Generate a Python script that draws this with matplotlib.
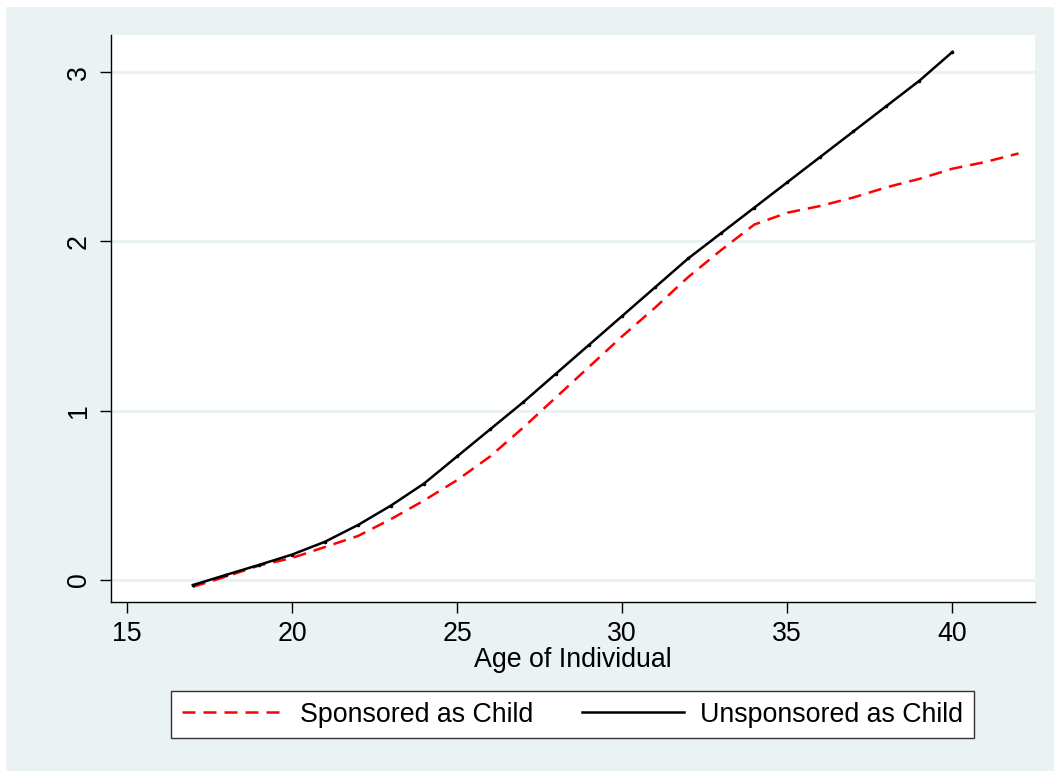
import numpy as np
import matplotlib
matplotlib.use("Agg")
import matplotlib.pyplot as plt
from matplotlib.patches import Rectangle

plt.rcParams['font.family'] = ['Liberation Sans', 'DejaVu Sans']

# data
age_spons = list(range(17, 43))
spons = [-0.04, 0.02, 0.085, 0.13, 0.195, 0.26, 0.36, 0.47, 0.59, 0.73,
         0.90, 1.08, 1.26, 1.44, 1.61, 1.79, 1.95, 2.10, 2.17, 2.21,
         2.26, 2.32, 2.37, 2.43, 2.47, 2.52]
age_unspons = list(range(17, 41))
unspons = [-0.03, 0.03, 0.089, 0.15, 0.226, 0.325, 0.44, 0.57, 0.73, 0.89,
           1.05, 1.22, 1.39, 1.56, 1.73, 1.90, 2.05, 2.20, 2.35, 2.50,
           2.65, 2.80, 2.95, 3.12]
xticks = [15, 20, 25, 30, 35, 40]
yticks = [0, 1, 2, 3]

W, H = 1054, 771
fs = 19.3
fig = plt.figure(figsize=(W/100, H/100), dpi=100, facecolor='white')
bg = '#EAF2F3'
fig.patches.append(Rectangle((6/W, 0), 1, 1 - 7/H, transform=fig.transFigure,
                             facecolor=bg, edgecolor='none', zorder=-10))

ax = fig.add_axes([111/W, 1 - 602/H, (1035-111)/W, (602-35)/H])
ax.set_facecolor('white')

ax.plot(age_spons, spons, color='red', lw=1.8, dashes=(5.2, 3.2),
        label='Sponsored as Child')
ax.plot(age_unspons, unspons, color='black', lw=1.8, marker='o', markersize=1.6,
        label='Unsponsored as Child')

ax.set_xlim(14.52, 42.5)
ax.set_ylim(-0.13, 3.22)
ax.set_xticks(xticks)
ax.set_yticks(yticks)
ax.grid(axis='y', color=bg, lw=2.2)
ax.set_axisbelow(True)
for s in ['top', 'right']:
    ax.spines[s].set_visible(False)
for s in ['left', 'bottom']:
    ax.spines[s].set_linewidth(1.0)
ax.tick_params(axis='both', length=8, width=1, labelsize=fs, pad=6)
plt.setp(ax.get_yticklabels(), rotation=90, va='center')
ax.set_xlabel('Age of Individual', fontsize=fs, labelpad=0)

leg = fig.legend(loc='center', bbox_to_anchor=(171/W, 1 - 740/H, (974-171)/W, 51/H),
                 mode='expand', ncol=2, fontsize=fs, handlelength=3.8,
                 handletextpad=0.6, borderpad=0.4, borderaxespad=0,
                 fancybox=False, framealpha=1, edgecolor='#333333')
leg.get_frame().set_linewidth(1.0)
for h in leg.get_lines():
    h.set_marker('')

fig.savefig('out.png', dpi=100, facecolor=fig.get_facecolor())
